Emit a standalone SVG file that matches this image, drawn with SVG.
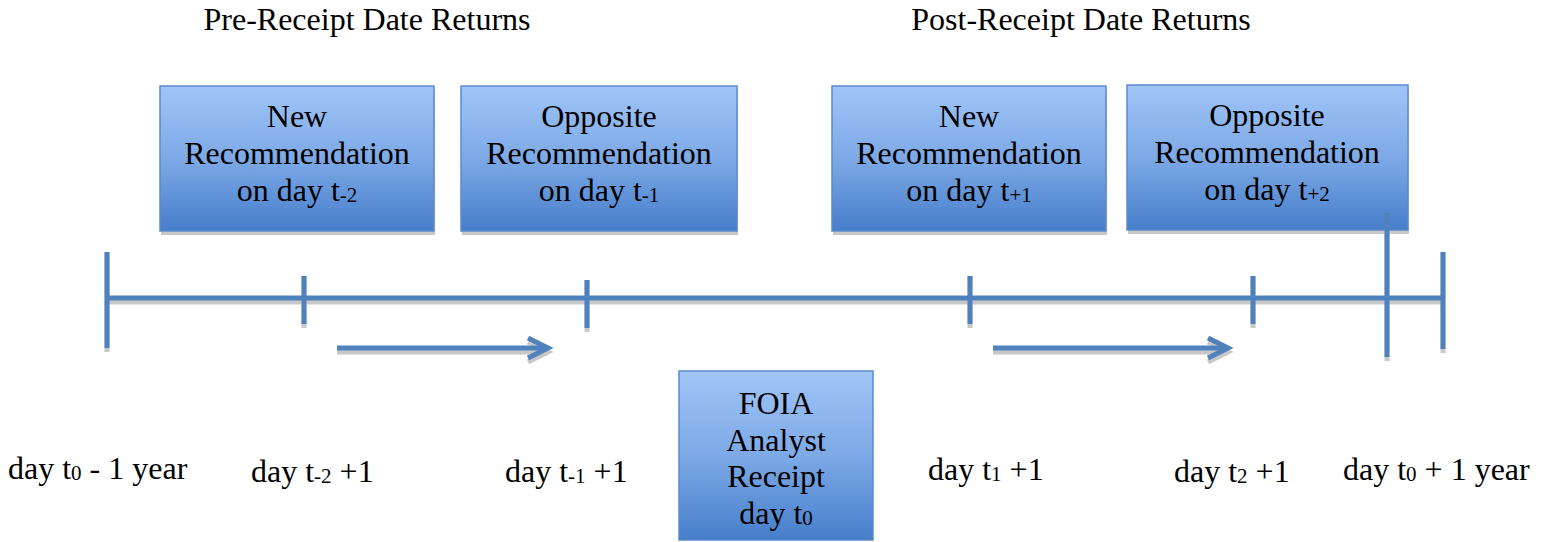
<svg xmlns="http://www.w3.org/2000/svg" width="1551" height="542" viewBox="0 0 1551 542">
<defs>
<linearGradient id="g" x1="0" y1="0" x2="0" y2="1">
<stop offset="0" stop-color="#A0C5F8"/>
<stop offset="0.5" stop-color="#7DA9E6"/>
<stop offset="1" stop-color="#467ECB"/>
</linearGradient>
<marker id="ah" markerUnits="userSpaceOnUse" markerWidth="30" markerHeight="30" refX="22" refY="12" orient="auto" viewBox="0 0 30 24">
<polyline points="2,2 22,12 2,22" fill="none" stroke="#4F81BD" stroke-width="5"/>
</marker>
<marker id="ahs" markerUnits="userSpaceOnUse" markerWidth="30" markerHeight="30" refX="22" refY="12" orient="auto" viewBox="0 0 30 24">
<polyline points="2,2 22,12 2,22" fill="none" stroke="#C8C8C8" stroke-width="5"/>
</marker>
</defs>
<style>
text{font-family:"Liberation Serif","Times New Roman",serif;font-size:32px;fill:#000}
.c{text-anchor:middle}
.box{fill:url(#g);stroke:#5B8ACB;stroke-width:1.5}
.sh{fill:#C8C8C8}
.ln{stroke:#4F81BD;stroke-width:5;fill:none}
.lns{stroke:#C8C8C8;stroke-width:5;fill:none}
.s{font-size:21px}
</style>
<rect width="1551" height="542" fill="#fff"/>
<text x="367" y="30" class="c">Pre-Receipt Date Returns</text>
<text x="1081" y="30" class="c">Post-Receipt Date Returns</text>
<g id="connectors">
<g>
<line class="lns" x1="107" y1="302" x2="1443" y2="302"/>
<line class="lns" x1="107" y1="252" x2="107" y2="352"/>
<line class="lns" x1="304" y1="276" x2="304" y2="328"/>
<line class="lns" x1="587" y1="280" x2="587" y2="332"/>
<line class="lns" x1="970" y1="276" x2="970" y2="328"/>
<line class="lns" x1="1253" y1="276" x2="1253" y2="328"/>
<line class="lns" x1="1387" y1="213" x2="1387" y2="361"/>
<line class="lns" x1="1443" y1="252" x2="1443" y2="353"/>
<line class="lns" x1="337" y1="352" x2="548" y2="352" marker-end="url(#ahs)"/>
<line class="lns" x1="993" y1="352" x2="1228" y2="352" marker-end="url(#ahs)"/>
</g>
<line class="ln" x1="107" y1="298" x2="1443" y2="298"/>
<line class="ln" x1="107" y1="252" x2="107" y2="348"/>
<line class="ln" x1="304" y1="276" x2="304" y2="324"/>
<line class="ln" x1="587" y1="280" x2="587" y2="328"/>
<line class="ln" x1="970" y1="276" x2="970" y2="324"/>
<line class="ln" x1="1253" y1="276" x2="1253" y2="324"/>
<line class="ln" x1="1443" y1="252" x2="1443" y2="349"/>
<line class="ln" x1="337" y1="348" x2="548" y2="348" marker-end="url(#ah)"/>
<line class="ln" x1="993" y1="348" x2="1228" y2="348" marker-end="url(#ah)"/>
</g>
<g id="box1">
<rect class="sh" x="161" y="90" width="274" height="145"/>
<rect class="box" x="160" y="86" width="274" height="145"/>
<text x="297" y="127" class="c">New</text>
<text x="297" y="164" class="c">Recommendation</text>
<text x="297" y="201" class="c">on day t<tspan class="s" dy="1">-2</tspan></text>
</g>
<g id="box2">
<rect class="sh" x="462" y="90" width="276" height="145"/>
<rect class="box" x="461" y="86" width="276" height="145"/>
<text x="599" y="127" class="c">Opposite</text>
<text x="599" y="164" class="c">Recommendation</text>
<text x="599" y="201" class="c">on day t<tspan class="s" dy="1">-1</tspan></text>
</g>
<g id="box3">
<rect class="sh" x="833" y="90" width="274" height="145"/>
<rect class="box" x="832" y="86" width="274" height="145"/>
<text x="969" y="127" class="c">New</text>
<text x="969" y="164" class="c">Recommendation</text>
<text x="969" y="201" class="c">on day t<tspan class="s" dy="1">+1</tspan></text>
</g>
<g id="box4">
<rect class="sh" x="1128" y="89" width="281" height="145"/>
<rect class="box" x="1127" y="85" width="281" height="145"/>
<text x="1267" y="126" class="c">Opposite</text>
<text x="1267" y="163" class="c">Recommendation</text>
<text x="1267" y="200" class="c">on day t<tspan class="s" dy="1">+2</tspan></text>
</g>
<g id="tick-t0">
<line class="ln" x1="1387" y1="213" x2="1387" y2="357"/>
</g>
<g id="foia">
<rect class="box" x="679" y="371" width="194" height="169"/>
<text x="776" y="414" class="c">FOIA</text>
<text x="776" y="451" class="c">Analyst</text>
<text x="776" y="487" class="c">Receipt</text>
<text x="776" y="524" class="c">day t<tspan class="s" dy="1">0</tspan></text>
</g>
<g id="labels">
<text x="8" y="479">day t<tspan class="s" dy="1">0</tspan><tspan dy="-1"> - 1 year</tspan></text>
<text x="251" y="482">day t<tspan class="s" dy="1">-2</tspan><tspan dy="-1"> +1</tspan></text>
<text x="505" y="482">day t<tspan class="s" dy="1">-1</tspan><tspan dy="-1"> +1</tspan></text>
<text x="928" y="480">day t<tspan class="s" dy="1">1</tspan><tspan dy="-1"> +1</tspan></text>
<text x="1174" y="482">day t<tspan class="s" dy="1">2</tspan><tspan dy="-1"> +1</tspan></text>
<text x="1343" y="480">day t<tspan class="s" dy="1">0</tspan><tspan dy="-1"> + 1 year</tspan></text>
</g>
</svg>
